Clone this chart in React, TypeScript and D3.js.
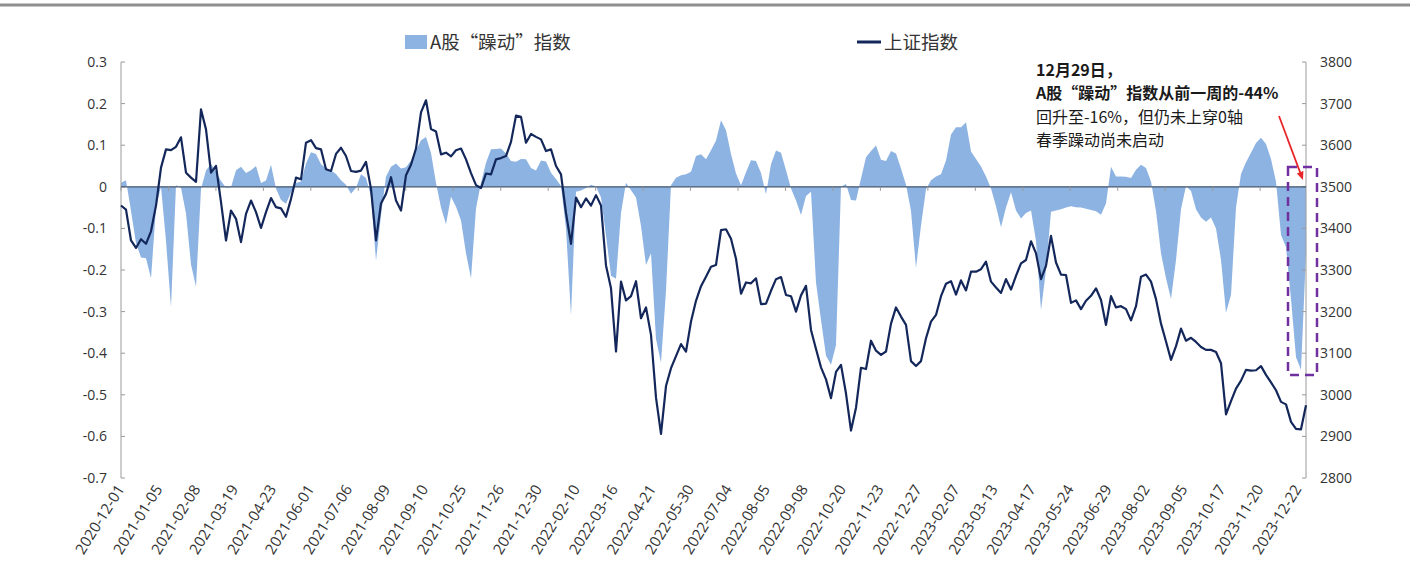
import * as d3 from 'd3';

// x-axis category labels, one every 24 trading days
const TICK_DATES = [
  '2020-12-01', '2021-01-05', '2021-02-08', '2021-03-19', '2021-04-23', '2021-06-01',
  '2021-07-06', '2021-08-09', '2021-09-10', '2021-10-25', '2021-11-26', '2021-12-30',
  '2022-02-10', '2022-03-16', '2022-04-21', '2022-05-30', '2022-07-04', '2022-08-05',
  '2022-09-08', '2022-10-20', '2022-11-23', '2022-12-27', '2023-02-07', '2023-03-13',
  '2023-04-17', '2023-05-24', '2023-06-29', '2023-08-02', '2023-09-05', '2023-10-17',
  '2023-11-20', '2023-12-22',
];

// A股“躁动”指数 (left axis), sampled evenly from 2020-12-01 to 2023-12-29
const ZAODONG = [
  0.01, 0.016, -0.058, -0.135, -0.17, -0.172, -0.22, -0.05, 0, -0.13,
  -0.29, 0.004, -0.002, -0.064, -0.187, -0.24, -0.005, 0.039, 0.055, 0.037,
  0.014, -0.002, -0.001, 0.04, 0.048, 0.033, 0.04, 0.05, 0.009, 0.015,
  0.053, -0.004, -0.032, -0.041, -0.014, 0.009, 0.013, 0.056, 0.083, 0.079,
  0.054, 0.045, 0.039, 0.031, 0.016, 0.005, -0.017, -0.002, 0.03, 0.021,
  -0.022, -0.178, -0.069, 0.025, 0.048, 0.056, 0.044, 0.047, 0.063, 0.087,
  0.112, 0.12, 0.081, 0.009, -0.05, -0.09, -0.024, -0.048, -0.081, -0.16,
  -0.22, -0.052, 0.01, 0.058, 0.09, 0.091, 0.092, 0.08, 0.062, 0.06,
  0.067, 0.066, 0.045, 0.039, 0.063, 0.061, 0.034, 0.019, 0.002, -0.1,
  -0.31, -0.012, -0.009, -0.003, 0.005, 0.001, -0.026, -0.117, -0.214, -0.221,
  -0.063, 0.01, -0.008, -0.026, -0.094, -0.188, -0.16, -0.366, -0.423, -0.25,
  0.004, 0.022, 0.028, 0.03, 0.036, 0.074, 0.078, 0.066, 0.088, 0.111,
  0.16, 0.136, 0.079, 0.032, 0.004, 0.035, 0.064, 0.062, 0.033, -0.018,
  0.054, 0.087, 0.082, 0.04, -0.004, -0.033, -0.068, -0.022, -0.012, -0.23,
  -0.32, -0.406, -0.428, -0.38, 0, 0.007, -0.032, -0.033, 0.02, 0.071,
  0.086, 0.099, 0.065, 0.062, 0.086, 0.08, 0.044, 0.005, -0.058, -0.195,
  -0.093, -0.006, 0.016, 0.025, 0.03, 0.063, 0.126, 0.143, 0.143, 0.155,
  0.085, 0.067, 0.049, 0.025, -0.004, -0.047, -0.097, -0.05, -0.013, -0.057,
  -0.076, -0.063, -0.057, -0.13, -0.296, -0.2, -0.06, -0.057, -0.054, -0.05,
  -0.047, -0.049, -0.05, -0.053, -0.056, -0.059, -0.067, -0.04, 0.048, 0.025,
  0.025, 0.024, 0.021, 0.041, 0.053, 0.045, 0.013, -0.058, -0.16, -0.22,
  -0.27, -0.176, -0.054, 0.002, -0.01, -0.054, -0.074, -0.084, -0.074, -0.1,
  -0.176, -0.303, -0.26, -0.05, 0.031, 0.059, 0.082, 0.105, 0.118, 0.103,
  0.067, 0.012, -0.116, -0.145, -0.27, -0.41, -0.44, -0.16,
];

// 上证指数 (right axis), same sampling
const SSE = [
  3455, 3445, 3371, 3353, 3374, 3363, 3393, 3455, 3546, 3590,
  3588, 3596, 3619, 3534, 3522, 3512, 3686, 3638, 3534, 3550,
  3463, 3371, 3443, 3423, 3367, 3435, 3467, 3439, 3401, 3439,
  3473, 3451, 3448, 3428, 3471, 3522, 3518, 3606, 3612, 3593,
  3590, 3542, 3538, 3579, 3594, 3574, 3538, 3536, 3539, 3560,
  3495, 3371, 3460, 3483, 3523, 3467, 3443, 3528, 3553, 3592,
  3679, 3708, 3639, 3633, 3578, 3582, 3573, 3588, 3592, 3566,
  3533, 3504, 3497, 3532, 3530, 3566, 3569, 3574, 3608,
  3671, 3668, 3606, 3627, 3620, 3614, 3586, 3590, 3550, 3530,
  3437, 3363, 3474, 3451, 3472, 3455, 3480, 3455, 3311, 3256,
  3104, 3272, 3227, 3237, 3273, 3184, 3210, 3144, 2993, 2906,
  3021, 3064, 3093, 3122, 3104, 3176, 3226, 3261, 3284, 3308,
  3312, 3396, 3398, 3375, 3327, 3243, 3270, 3268, 3280, 3218,
  3219, 3250, 3278, 3283, 3240, 3237, 3200, 3239, 3262, 3156,
  3110, 3066, 3037, 2992, 3055, 3072, 3003, 2914, 2969, 3065,
  3062, 3130, 3106, 3096, 3104, 3171, 3210, 3188, 3168,
  3081, 3069, 3081, 3136, 3176, 3192, 3237, 3267, 3273, 3241,
  3275, 3251, 3296, 3296, 3302, 3320, 3272, 3258, 3245, 3278,
  3253, 3286, 3316, 3324, 3369, 3340, 3278, 3310, 3382, 3318,
  3289, 3288, 3221, 3227, 3206, 3226, 3238, 3256, 3228, 3168,
  3237, 3210, 3213, 3206, 3179, 3213, 3284, 3289, 3272, 3230,
  3171, 3128, 3084, 3117, 3159, 3130, 3137, 3127, 3115, 3108,
  3108, 3103, 3076, 2953, 2985, 3015, 3034, 3060, 3058, 3059,
  3069, 3048, 3030, 3011, 2983, 2977, 2935, 2918, 2917, 2975,
];

const NOTE_LINES = [
  '12月29日，',
  'A股“躁动”指数从前一周的-44%',
  '回升至-16%，但仍未上穿0轴',
  '春季躁动尚未启动',
];

const W = 1415;
const H = 571;
const X0 = 121;
const X1 = 1306;
const Y_TOP = 62;
const Y_BOT = 478;
const TRADING_DAYS = 750;
const LABEL_EVERY = 24;
const TICK_EVERY = 30;

const AREA_COLOR = '#8db3e2';
const LINE_COLOR = '#13275a';
const AXIS_COLOR = '#9a9a9a';
const TEXT_COLOR = '#333';
const NUM_FONT = '"Open Sans", "Noto Sans", sans-serif';
const CJK_FONT = '"Noto Sans CJK SC", "Noto Sans", sans-serif';

export default function App() {
  const xDay = d3.scaleLinear().domain([0, TRADING_DAYS - 1]).range([X0, X1]);
  const xSample = d3.scaleLinear().domain([0, SSE.length - 1]).range([X0, X1]);
  const yL = d3.scaleLinear().domain([-0.7, 0.3]).range([Y_BOT, Y_TOP]);
  const yR = d3.scaleLinear().domain([2800, 3800]).range([Y_BOT, Y_TOP]);

  const areaPath = d3.area<number>()
    .x((_, i) => xSample(i))
    .y0(yL(0))
    .y1(d => yL(d))(ZAODONG) || '';

  const linePath = d3.line<number>()
    .x((_, i) => xSample(i))
    .y(d => yR(d))(SSE) || '';

  const leftTicks = yL.ticks(10);
  const rightTicks = yR.ticks(10);
  const zeroTicks = d3.range(0, TRADING_DAYS, TICK_EVERY);

  // arrow geometry
  const ax0 = 1279, ay0 = 116, ax1 = 1303, ay1 = 180;
  const ang = Math.atan2(ay1 - ay0, ax1 - ax0);
  const head = 9;
  const hx = (a: number) => ax1 - head * Math.cos(ang + a);
  const hy = (a: number) => ay1 - head * Math.sin(ang + a);

  return (
    <svg width={W} height={H} style={{ position: 'absolute', left: 0, top: 0, background: '#fff' }}>
      <rect width={W} height={H} fill="#fff" />
      {/* top rule */}
      <line x1={0} x2={1410} y1={5} y2={5} stroke="#8f8f8f" strokeWidth={3} />

      {/* legend */}
      <rect x={405} y={35} width={22} height={14} fill={AREA_COLOR} />
      <text x={430} y={49} fontFamily={CJK_FONT} fontSize={18.5} fill={TEXT_COLOR}>A股“躁动”指数</text>
      <line x1={857} x2={881} y1={42} y2={42} stroke={LINE_COLOR} strokeWidth={3} />
      <text x={884} y={49} fontFamily={CJK_FONT} fontSize={18.5} fill={TEXT_COLOR}>上证指数</text>

      {/* area */}
      <path d={areaPath} fill={AREA_COLOR} />

      {/* left axis */}
      <line x1={X0} x2={X0} y1={Y_TOP} y2={Y_BOT} stroke={AXIS_COLOR} />
      {leftTicks.map(t => (
        <g key={`l${t}`}>
          <line x1={X0} x2={X0 + 4} y1={yL(t)} y2={yL(t)} stroke={AXIS_COLOR} />
          <text x={107} y={yL(t)} dy="0.35em" textAnchor="end" fontFamily={NUM_FONT} fontSize={14} fill={TEXT_COLOR}>
            {Math.abs(t) < 1e-9 ? '0' : String(Math.round(t * 10) / 10)}
          </text>
        </g>
      ))}

      {/* right axis */}
      <line x1={X1} x2={X1} y1={Y_TOP} y2={Y_BOT} stroke={AXIS_COLOR} />
      {rightTicks.map(t => (
        <g key={`r${t}`}>
          <line x1={X1 - 4} x2={X1} y1={yR(t)} y2={yR(t)} stroke={AXIS_COLOR} />
          <text x={1320} y={yR(t)} dy="0.35em" textAnchor="start" fontFamily={NUM_FONT} fontSize={14} fill={TEXT_COLOR}>
            {t}
          </text>
        </g>
      ))}

      {/* zero (category) axis */}
      <line x1={X0} x2={X1} y1={yL(0)} y2={yL(0)} stroke="#44546a" strokeWidth={1.3} />
      {zeroTicks.map(d => (
        <line key={`z${d}`} x1={xDay(d)} x2={xDay(d)} y1={yL(0)} y2={yL(0) + 4} stroke={AXIS_COLOR} />
      ))}

      {/* 上证指数 line */}
      <path d={linePath} fill="none" stroke={LINE_COLOR} strokeWidth={2.2} strokeLinejoin="round" />

      {/* date labels */}
      {TICK_DATES.map((lab, i) => {
        const x = xDay(i * LABEL_EVERY);
        return (
          <text key={lab} transform={`translate(${x + 4},${489}) rotate(-58)`} textAnchor="end"
            fontFamily={NUM_FONT} fontSize={15} fill={TEXT_COLOR}>{lab}</text>
        );
      })}

      {/* annotation */}
      {NOTE_LINES.map((s, i) => (
        <text key={s} x={1036} y={76 + i * 23.3} fontFamily={CJK_FONT} fontSize={16}
          fontWeight={i < 2 ? 700 : 400} fill="#1a1a1a">{s}</text>
      ))}
      <line x1={ax0} y1={ay0} x2={ax1 - 5 * Math.cos(ang)} y2={ay1 - 5 * Math.sin(ang)} stroke="#e8262a" strokeWidth={1.8} />
      <polygon points={`${ax1},${ay1} ${hx(0.4)},${hy(0.4)} ${hx(-0.4)},${hy(-0.4)}`} fill="#e8262a" />
      <rect x={1288} y={167} width={29} height={208} fill="none" stroke="#7030a0" strokeWidth={2.5} strokeDasharray="9 6" />
    </svg>
  );
}
